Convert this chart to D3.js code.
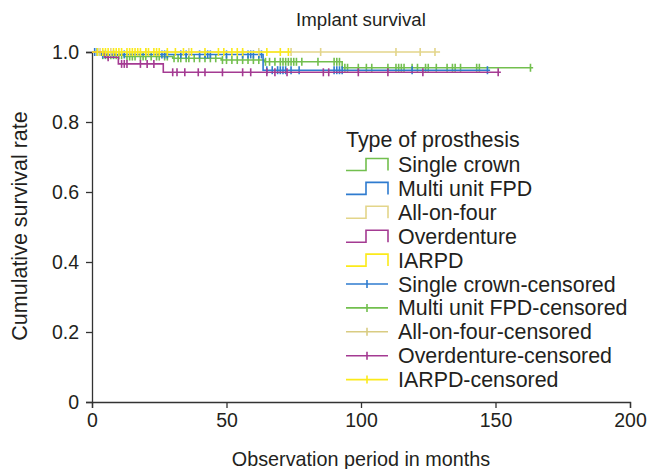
<!DOCTYPE html>
<html>
<head>
<meta charset="utf-8">
<script src="https://cdn.jsdelivr.net/npm/d3@7"></script>
<style>
  html, body { margin: 0; padding: 0; background: #fff; }
  svg { display: block; font-family: "Liberation Sans", Arial, Helvetica, sans-serif; }
</style>
</head>
<body>
<svg id="chart" width="651" height="469"></svg>
<script>
// ---------------- DATA ----------------
const chartTitle = "Implant survival";
const xLabel = "Observation period in months";
const yLabel = "Cumulative survival rate";
const legendTitle = "Type of prosthesis";

const xTicks = [0, 50, 100, 150, 200];
const yTicks = [0, 0.2, 0.4, 0.6, 0.8, 1.0];
const yTickLabels = ["0", "0.2", "0.4", "0.6", "0.8", "1.0"];

const seriesNames = ["Single crown", "Multi unit FPD", "All-on-four", "Overdenture", "IARPD"];
const censoredNames = ["Single crown-censored", "Multi unit FPD-censored", "All-on-four-censored", "Overdenture-censored", "IARPD-censored"];
const seriesColors = ["#72bf4e", "#2e7bcf", "#e3d58a", "#a43a92", "#fbea1a"];
const censoredLegendColors = ["#2e7bcf", "#72bf4e", "#d9cc82", "#a43a92", "#fbea1a"];

// Single crown
const singleCrownTimes = [0, 3, 12, 30, 48, 64, 93];
const singleCrownSurv  = [1, 0.991, 0.987, 0.982, 0.977, 0.972, 0.955];
const singleCrownEnd = 164;
const singleCrownCensor = [2, 4, 5, 6, 7, 8, 9, 10, 11, 13, 14, 15, 16, 18, 19, 20, 22, 24, 25, 27, 28, 30.5, 32, 33, 35, 36, 38, 40, 42, 44, 46, 48.5, 50, 52, 54, 56, 58, 60, 62, 64.5, 66, 68, 70, 71, 72, 73, 74, 75, 76, 78, 84, 90, 91, 92, 94, 95, 99, 102, 104, 110, 113, 114, 115, 116, 119, 121, 124, 125, 128, 132, 134, 135, 137, 143, 144, 163];

// Multi unit FPD
const multiFpdTimes = [0, 3.6, 63.6];
const multiFpdSurv  = [1, 0.993, 0.948];
const multiFpdEnd = 148;
const multiFpdCensor = [1, 2, 4, 5, 8, 12, 26, 27, 28, 33, 35, 40, 42, 43, 44, 50, 56, 58, 59, 60, 62, 63, 65, 67, 69, 70, 71, 72, 74, 77, 90, 91, 92, 93, 119, 147];

// All-on-four
const allOnFourTimes = [0];
const allOnFourSurv  = [1];
const allOnFourEnd = 129.4;
const allOnFourCensor = [3, 7, 20, 36, 62, 74, 85, 113, 122, 127.5];

// Overdenture
const overdentureTimes = [0, 4.8, 9.8, 26.5];
const overdentureSurv  = [1, 0.985, 0.966, 0.942];
const overdentureEnd = 152;
const overdentureCensor = [6, 11, 12, 13, 18, 20.5, 23, 30, 31.6, 34.5, 39.5, 42, 48.5, 56, 59, 65, 68, 72.5, 86, 88, 99, 110, 123, 151];

// IARPD
const iarpdTimes = [0];
const iarpdSurv  = [1];
const iarpdEnd = 74;
const iarpdCensor = [2, 4, 5, 6, 8, 9, 10, 11, 13, 14, 15, 16, 17, 18, 20, 21, 23, 24, 25, 28, 31, 34, 37, 42, 47, 49, 52, 54, 56, 65, 70, 73];

const seriesTimes = [singleCrownTimes, multiFpdTimes, allOnFourTimes, overdentureTimes, iarpdTimes];
const seriesSurv = [singleCrownSurv, multiFpdSurv, allOnFourSurv, overdentureSurv, iarpdSurv];
const seriesEnds = [singleCrownEnd, multiFpdEnd, allOnFourEnd, overdentureEnd, iarpdEnd];
const seriesCensor = [singleCrownCensor, multiFpdCensor, allOnFourCensor, overdentureCensor, iarpdCensor];

// ---------------- CHART ----------------
const svg = d3.select("#chart");
const margin = { left: 92, right: 21, top: 52, bottom: 67 };
const W = 651, H = 469;
const x = d3.scaleLinear().domain([0, 200]).range([margin.left, W - margin.right]);
const y = d3.scaleLinear().domain([0, 1]).range([H - margin.bottom, margin.top]);
const axisColor = "#333";
const textColor = "#231f20";

// Axes
const xAxis = svg.append("g")
  .attr("transform", `translate(0,${y(0)})`)
  .call(d3.axisBottom(x).tickValues(xTicks).tickFormat(d3.format("d")).tickSize(6).tickPadding(5));
const yAxis = svg.append("g")
  .attr("transform", `translate(${x(0)},0)`)
  .call(d3.axisLeft(y).tickValues(yTicks).tickFormat((d, i) => yTickLabels[i]).tickSize(6).tickPadding(7));
[xAxis, yAxis].forEach(g => {
  g.selectAll("path.domain").attr("stroke", axisColor).attr("stroke-width", 1.3);
  g.selectAll(".tick line").attr("stroke", axisColor).attr("stroke-width", 1.3);
  g.selectAll(".tick text").attr("fill", textColor).style("font-size", "19.5px")
    .style("font-family", "'Liberation Sans', Arial, sans-serif");
});

// Curves
const line = d3.line().x(d => x(d[0])).y(d => y(d[1])).curve(d3.curveStepAfter);
function survAt(times, surv, t) {
  let s = surv[0];
  for (let i = 0; i < times.length; i++) if (times[i] <= t) s = surv[i];
  return s;
}
const plot = svg.append("g");
seriesNames.forEach((name, i) => {
  const times = seriesTimes[i], surv = seriesSurv[i];
  const pts = times.map((t, j) => [t, surv[j]]);
  pts.push([seriesEnds[i], surv[surv.length - 1]]);
  plot.append("path")
    .datum(pts)
    .attr("d", line)
    .attr("fill", "none")
    .attr("stroke", seriesColors[i])
    .attr("stroke-width", 1.6);
  plot.selectAll(null)
    .data(seriesCensor[i])
    .enter().append("line")
    .attr("x1", d => x(d)).attr("x2", d => x(d))
    .attr("y1", d => y(survAt(times, surv, d)) - 4)
    .attr("y2", d => y(survAt(times, surv, d)) + 4)
    .attr("stroke", seriesColors[i])
    .attr("stroke-width", 1.6);
});

// Title and axis labels
svg.append("text").attr("x", 361).attr("y", 26).attr("text-anchor", "middle")
  .attr("fill", textColor).style("font-size", "18.7px").text(chartTitle);
svg.append("text").attr("x", 361).attr("y", 466).attr("text-anchor", "middle")
  .attr("fill", textColor).style("font-size", "19.8px").text(xLabel);
svg.append("text").attr("transform", `translate(27,${226}) rotate(-90)`).attr("text-anchor", "middle")
  .attr("fill", textColor).style("font-size", "21.5px").text(yLabel);

// Legend
const lg = svg.append("g");
const lx = 346, step = 23.9, ly0 = 164.5;
const legendFont = "21.4px";
lg.append("text").attr("x", lx).attr("y", 147).attr("fill", textColor)
  .style("font-size", legendFont).text(legendTitle);
seriesNames.forEach((name, i) => {
  const cy = ly0 + i * step;
  const b = cy + 6, t = cy - 6;
  lg.append("path")
    .attr("d", `M${lx},${b}H${lx + 20}V${t}H${lx + 42}V${b}`)
    .attr("fill", "none").attr("stroke", seriesColors[i]).attr("stroke-width", 1.6);
  lg.append("text").attr("x", lx + 52).attr("y", cy + 7.5).attr("fill", textColor)
    .style("font-size", legendFont).text(name);
});
censoredNames.forEach((name, i) => {
  const cy = ly0 + (i + 5) * step;
  lg.append("line").attr("x1", lx).attr("x2", lx + 42).attr("y1", cy).attr("y2", cy)
    .attr("stroke", censoredLegendColors[i]).attr("stroke-width", 1.6);
  lg.append("line").attr("x1", lx + 21).attr("x2", lx + 21).attr("y1", cy - 4).attr("y2", cy + 4)
    .attr("stroke", censoredLegendColors[i]).attr("stroke-width", 1.6);
  lg.append("text").attr("x", lx + 52).attr("y", cy + 7.5).attr("fill", textColor)
    .style("font-size", legendFont).text(name);
});
</script>
</body>
</html>
